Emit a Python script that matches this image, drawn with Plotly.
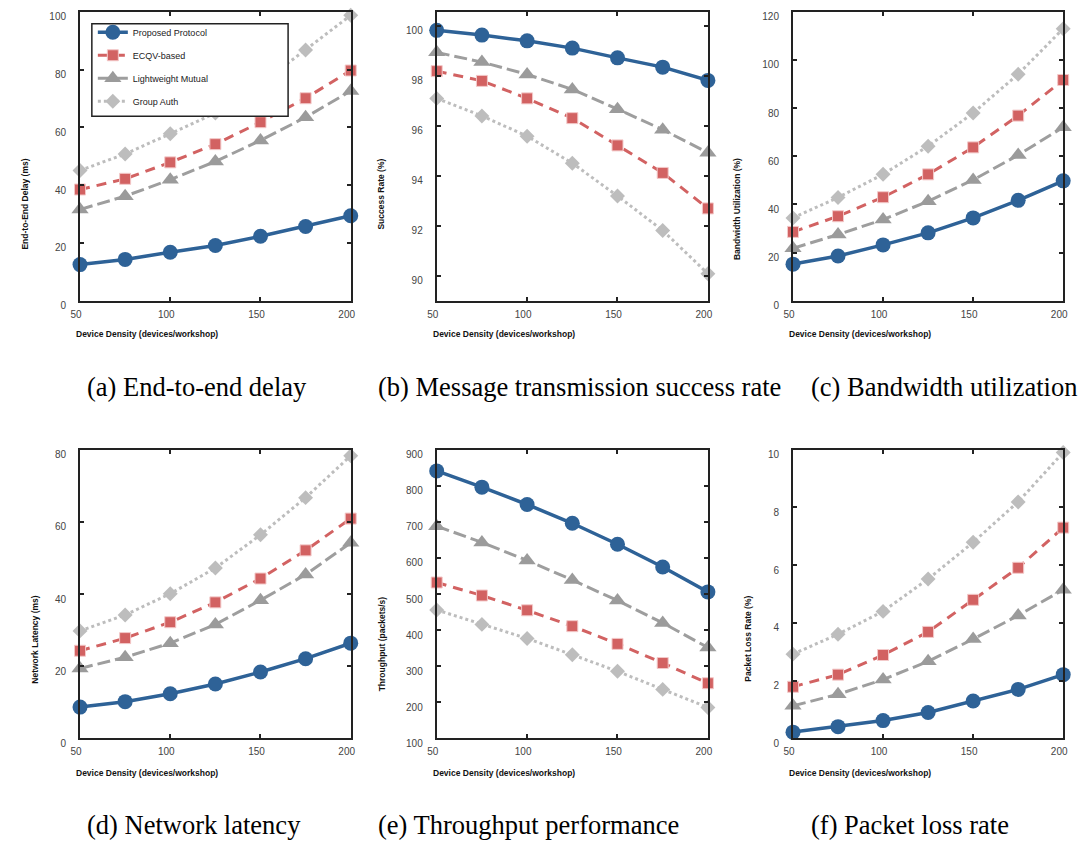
import plotly.graph_objects as go

# ---------------- data ----------------
density = [50, 75, 100, 125, 150, 175, 200]
series_names = ["Proposed Protocol", "ECQV-based", "Lightweight Mutual", "Group Auth"]

delay_proposed = [12.5, 14.3, 16.8, 19.1, 22.3, 25.7, 29.4]
delay_ecqv = [38.5, 42.2, 47.9, 54.2, 61.8, 70.1, 79.7]
delay_light = [31.6, 36.2, 41.9, 48.2, 55.5, 63.5, 72.6]
delay_group = [45.1, 50.8, 57.8, 65.0, 75.0, 86.8, 98.8]

success_proposed = [99.81, 99.62, 99.39, 99.10, 98.71, 98.34, 97.81]
success_ecqv = [98.18, 97.79, 97.09, 96.30, 95.21, 94.11, 92.69]
success_light = [98.93, 98.54, 98.05, 97.45, 96.66, 95.84, 94.92]
success_group = [97.09, 96.39, 95.58, 94.50, 93.19, 91.81, 90.08]

bw_proposed = [15.2, 18.6, 23.2, 28.2, 34.4, 41.7, 49.8]
bw_ecqv = [28.6, 35.1, 43.0, 52.5, 63.7, 76.9, 91.7]
bw_light = [21.8, 27.5, 33.7, 41.3, 50.2, 60.5, 72.1]
bw_group = [34.4, 42.9, 52.5, 64.2, 78.0, 94.1, 113.0]

lat_proposed = [8.7, 10.2, 12.4, 15.1, 18.4, 22.1, 26.4]
lat_ecqv = [24.3, 27.8, 32.2, 37.7, 44.3, 52.1, 60.9]
lat_light = [19.4, 22.5, 26.4, 31.6, 38.3, 45.4, 54.2]
lat_group = [29.8, 34.2, 40.1, 47.2, 56.4, 66.7, 78.3]

thr_proposed = [841, 796, 748, 696, 638, 575, 506]
thr_ecqv = [532, 496, 455, 411, 362, 309, 253]
thr_light = [688, 643, 593, 539, 482, 420, 352]
thr_group = [456, 416, 377, 332, 286, 236, 186]

loss_proposed = [0.22, 0.41, 0.62, 0.90, 1.30, 1.70, 2.21]
loss_ecqv = [1.79, 2.21, 2.89, 3.69, 4.80, 5.91, 7.30]
loss_light = [1.13, 1.53, 2.04, 2.67, 3.44, 4.26, 5.15]
loss_group = [2.92, 3.61, 4.40, 5.52, 6.79, 8.19, 9.90]

x_title = "Device Density (devices/workshop)"
x_ticks = [50, 100, 150, 200]

panels = [
    dict(data=[delay_proposed, delay_ecqv, delay_light, delay_group], yrange=[0, 100], dtick=20,
         ytitle="End-to-End Delay (ms)", caption="(a) End-to-end delay"),
    dict(data=[success_proposed, success_ecqv, success_light, success_group], yrange=[89, 100.55], dtick=2,
         ytitle="Success Rate (%)", caption="(b) Message transmission success rate"),
    dict(data=[bw_proposed, bw_ecqv, bw_light, bw_group], yrange=[0, 120], dtick=20,
         ytitle="Bandwidth Utilization (%)", caption="(c) Bandwidth utilization"),
    dict(data=[lat_proposed, lat_ecqv, lat_light, lat_group], yrange=[0, 80], dtick=20,
         ytitle="Network Latency (ms)", caption="(d) Network latency"),
    dict(data=[thr_proposed, thr_ecqv, thr_light, thr_group], yrange=[100, 900], dtick=100,
         ytitle="Throughput (packets/s)", caption="(e) Throughput performance"),
    dict(data=[loss_proposed, loss_ecqv, loss_light, loss_group], yrange=[0, 10], dtick=2,
         ytitle="Packet Loss Rate (%)", caption="(f) Packet loss rate"),
]

# ---------------- styles ----------------
styles = [
    dict(line=dict(color="#2E6297", width=3.5, dash="solid"),
         marker=dict(symbol="circle", size=15, color="#2E6297")),
    dict(line=dict(color="#D26262", width=3, dash="10px,7px"),
         marker=dict(symbol="square", size=11, color="#D26262", line=dict(color="#F3C9C9", width=1))),
    dict(line=dict(color="#9E9E9E", width=3, dash="13px,5px"),
         marker=dict(symbol="triangle-up", size=15, color="#9B9B9B")),
    dict(line=dict(color="#BDBDBD", width=3, dash="3px,3px"),
         marker=dict(symbol="diamond", size=11.5, color="#BDBDBD")),
]
draw_order = [3, 2, 1, 0]

W, H = 1083, 854


def px(v):
    return v / W


def py(v):
    return 1 - v / H


cols = [(71, 345.5), (432.7, 707.7), (794, 1068)]
rows = [(11, 304), (455, 748)]
ytitle_x = [15, 376, 737, 25, 377, 748]
caption_x = [76, 371, 810]
caption_y = [391, 836]
xtitle_y = [338, 783]

fig = go.Figure()
annotations = []
tick_font = dict(family="Liberation Sans, Arial, sans-serif", size=10, color="#444444")
title_font = dict(family="Liberation Sans, Arial, sans-serif", size=8.5, color="#111111")

for i, p in enumerate(panels):
    r, c = divmod(i, 3)
    ax = "" if i == 0 else str(i + 1)
    x0, x1 = cols[c]
    y0, y1 = rows[r]
    for k in draw_order:
        st = styles[k]
        fig.add_trace(go.Scatter(
            x=density, y=p["data"][k], mode="lines+markers", name=series_names[k],
            line=st["line"], marker=st["marker"], cliponaxis=False,
            legendgroup=series_names[k], legendrank=k + 1, showlegend=(i == 0),
            xaxis="x" + ax, yaxis="y" + ax))
    common = dict(showline=True, linecolor="#222222", linewidth=2, mirror="ticks",
                  ticks="inside", ticklen=4, tickwidth=1.5, tickcolor="#222222",
                  showgrid=False, zeroline=False, tickfont=tick_font, fixedrange=True)
    fig.update_layout(**{
        "xaxis" + ax: dict(domain=[px(x0), px(x1)], range=[50, 200], tickvals=x_ticks,
                           anchor="y" + ax, ticklabelshift=-4, ticklabelstandoff=3, **common),
        "yaxis" + ax: dict(domain=[py(y1), py(y0)], range=p["yrange"], dtick=p["dtick"],
                           tick0=0, anchor="x" + ax, ticklabelshift=5, ticklabelstandoff=10, **common),
    })
    annotations.append(dict(text="<b>" + x_title + "</b>", x=px(x0 - 6), y=py(xtitle_y[r]),
                            xref="paper", yref="paper", xanchor="left", yanchor="middle",
                            showarrow=False, font=title_font))
    annotations.append(dict(text="<b>" + p["ytitle"] + "</b>", x=px(ytitle_x[i]),
                            y=py((y0 + y1) / 2), xref="paper", yref="paper",
                            xanchor="center", yanchor="top", textangle=-90,
                            showarrow=False, font=title_font))
    annotations.append(dict(text=p["caption"], x=px(caption_x[c]), y=py(caption_y[r]),
                            xref="paper", yref="paper", xanchor="left", yanchor="middle",
                            showarrow=False,
                            font=dict(family="Liberation Serif, Times New Roman, serif",
                                      size=26.5, color="#000000")))

fig.update_layout(
    width=W, height=H, margin=dict(l=0, r=0, t=0, b=0),
    paper_bgcolor="white", plot_bgcolor="white",
    annotations=annotations,
    shapes=[dict(type="rect", xref="paper", yref="paper", layer="above",
                 x0=px(83), x1=px(282), y0=py(117), y1=py(23),
                 fillcolor="white", line=dict(color="#222222", width=1.5))],
    legend=dict(x=px(84), y=py(17), xanchor="left", yanchor="top",
                bgcolor="rgba(0,0,0,0)", borderwidth=0, itemwidth=30,
                tracegroupgap=4, traceorder="grouped",
                font=dict(family="Liberation Sans, Arial, sans-serif", size=9, color="#222222")),
    showlegend=True,
)

fig.write_html("out.html", config={"displayModeBar": False},
               post_script="document.body.style.margin='0';document.body.style.overflow='hidden';")
